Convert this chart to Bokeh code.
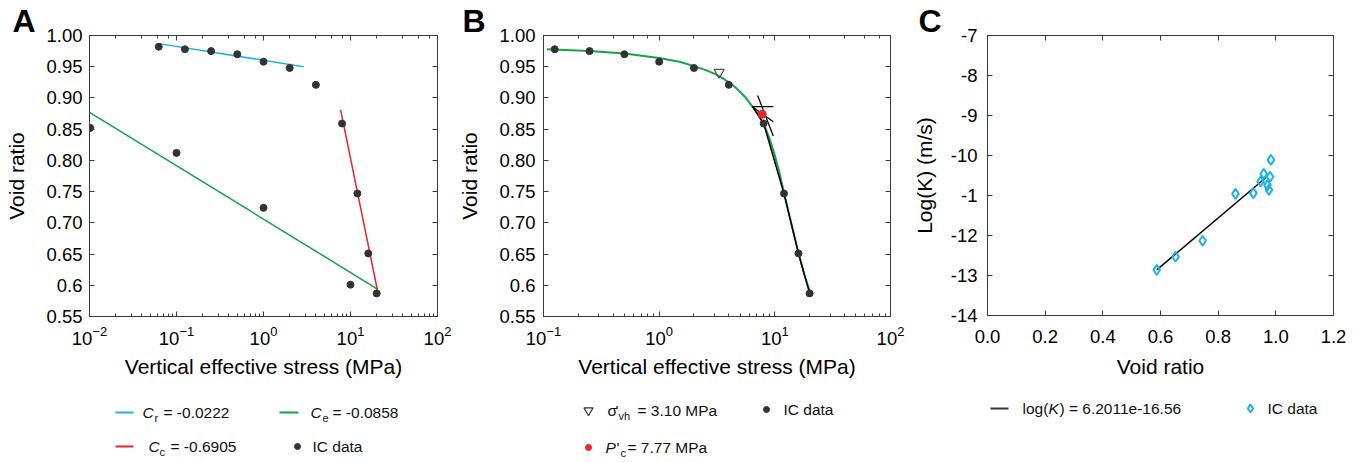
from bokeh.plotting import figure
from bokeh.layouts import row, column
from bokeh.models import (LogAxis, LinearAxis, FixedTicker, LogTicker, Range1d,
                          CustomJSTickFormatter)
from bokeh.embed import file_html
from bokeh.resources import INLINE
from bokeh.core.properties import value

# ---------------- data ----------------
# Panel A
load_stress_A = [0.0625, 0.125, 0.25, 0.5, 1, 2, 4, 8, 12, 16, 20]
load_void_A = [0.982, 0.978, 0.975, 0.970, 0.958, 0.948, 0.921, 0.859, 0.747, 0.651, 0.587]
unload_stress_A = [10, 1, 0.1, 0.0102]
unload_void_A = [0.601, 0.724, 0.812, 0.852]
cr_stress = [0.0625, 2.9]
cr_void = [0.987, 0.950]
ce_stress = [0.01, 20.4]
ce_void = [0.877, 0.594]
cc_stress = [7.7, 20.4]
cc_void = [0.881, 0.592]

# Panel B
stress_B = [0.125, 0.25, 0.5, 1, 2, 4, 8, 12, 16, 20]
void_B = [0.978, 0.975, 0.970, 0.958, 0.948, 0.921, 0.859, 0.747, 0.651, 0.587]
fit_stress_B = [0.107, 0.25, 0.5, 1, 1.5, 2, 2.5, 3, 3.5, 4, 4.5, 5, 5.5, 6, 7, 8, 9, 10, 11,
                12, 14, 16, 18, 20.3]
fit_void_B = [0.978, 0.975, 0.971, 0.964, 0.958, 0.951, 0.945, 0.939, 0.932, 0.925, 0.918,
              0.910, 0.902, 0.893, 0.877, 0.859, 0.835, 0.808, 0.779, 0.748, 0.696, 0.652,
              0.617, 0.587]
svh_stress = [3.3]
svh_void = [0.941]
pc_stress = [7.77]
pc_void = [0.874]
casa_h_stress = [6.4, 9.7]
casa_h_void = [0.886, 0.886]
casa_bis_stress = [6.4, 9.7]
casa_bis_void = [0.886, 0.862]
casa_tan_stress = [7.1, 9.7]
casa_tan_void = [0.904, 0.839]
vcl_stress = [6.4, 8, 12, 16, 20]
vcl_void = [0.886, 0.859, 0.747, 0.651, 0.587]

# Panel C
void_C = [0.587, 0.652, 0.746, 0.860, 0.922, 0.947, 0.958, 0.971, 0.976, 0.980, 0.983]
logk_C = [-12.86, -12.53, -12.13, -10.96, -10.94, -10.65, -10.46, -10.74, -10.86, -10.53, -10.11]
fitC_void = [0.587, 0.966]
fitC_logk = [-12.86, -10.55]

# ticks
void_ticks = [0.55, 0.60, 0.65, 0.70, 0.75, 0.80, 0.85, 0.90, 0.95, 1.00]
void_tick_labels = ["0.55", "0.6", "0.65", "0.70", "0.75", "0.80", "0.85", "0.90", "0.95", "1.00"]
c_x_ticks = [0.0, 0.2, 0.4, 0.6, 0.8, 1.0, 1.2]
c_x_labels = ["0.0", "0.2", "0.4", "0.6", "0.8", "1.0", "1.2"]
c_y_ticks = [-14, -13, -12, -11, -10, -9, -8, -7]
c_y_labels = ["-14", "-13", "-12", "-1", "-10", "-9", "-8", "-7"]

# ---------------- style ----------------
FONT = "Liberation Sans"
FRAME = "#3a3a3a"
BLUE = "#1cb2ea"
GREEN = "#17a34a"
RED = "#e8262b"
DOT = "#333333"
FIG_H = 380
LEG_H = 80
TOP = 35
BOTTOM = 64


def style_axis(ax, minor=True):
    ax.major_tick_in = 5
    ax.major_tick_out = 0
    ax.minor_tick_in = 3 if minor else 0
    ax.minor_tick_out = 0
    ax.axis_line_color = FRAME
    ax.major_tick_line_color = FRAME
    ax.minor_tick_line_color = FRAME if minor else None
    ax.major_label_text_font = FONT
    ax.major_label_text_font_size = "18.5px"
    ax.major_label_text_color = "black"
    ax.axis_label_text_font = FONT
    ax.axis_label_text_font_size = "21px"
    ax.axis_label_text_font_style = "normal"
    ax.axis_label_text_color = "black"


def mirror(p, ax_cls, loc, ticker, minor):
    ax = ax_cls(ticker=ticker, formatter=CustomJSTickFormatter(code="return ''"))
    style_axis(ax, minor)
    ax.major_label_text_font_size = "0px"
    ax.major_label_standoff = 0
    p.add_layout(ax, loc)


def make_fig(width, xr, yr, x_type, bl, br, letter_txt, letter_dx):
    p = figure(width=width, height=FIG_H, x_range=xr, y_range=yr, x_axis_type=x_type,
               output_backend="svg", toolbar_location=None,
               min_border_left=bl, min_border_right=br, min_border_top=TOP,
               min_border_bottom=BOTTOM)
    p.grid.visible = False
    p.outline_line_color = FRAME
    p.outline_line_width = 1
    p.background_fill_color = "white"
    p.border_fill_color = "white"
    p.title.text = letter_txt
    p.title.text_font = FONT
    p.title.text_font_size = "32px"
    p.title.text_font_style = "bold"
    p.title.text_color = "black"
    p.title.align = "left"
    p.title.offset = letter_dx
    p.title.standoff = -7
    return p


def legend_fig(width, bl, br, x0, x1):
    q = figure(width=width, height=LEG_H, x_range=Range1d(x0, x1), y_range=Range1d(LEG_H, 0),
               output_backend="svg", toolbar_location=None,
               min_border_left=bl, min_border_right=br, min_border_top=0, min_border_bottom=0,
               x_axis_location=None, y_axis_location=None)
    q.grid.visible = False
    q.outline_line_color = None
    return q


def txt(q, x, y, s, size="15.5px", style="normal"):
    q.text(x=[x], y=[y], text=[s], text_font=value(FONT), text_font_size=size,
           text_font_style=style, text_baseline="middle", text_align="left", text_color="#111111")


# ---------------- Panel A ----------------
pA = make_fig(455, Range1d(0.01, 100), Range1d(0.55, 1.0), "log", 89, 18, "A", -77)
style_axis(pA.xaxis[0], True)
style_axis(pA.yaxis[0], False)
pA.yaxis[0].ticker = FixedTicker(ticks=void_ticks)
pA.yaxis[0].major_label_overrides = dict(zip(void_ticks, void_tick_labels))
pA.xaxis[0].axis_label = "Vertical effective stress (MPa)"
pA.yaxis[0].axis_label = "Void ratio"
pA.xaxis[0].major_label_standoff = 9
pA.xaxis[0].axis_label_standoff = 7
pA.yaxis[0].major_label_standoff = 7
pA.yaxis[0].axis_label_standoff = 15
mirror(pA, LogAxis, "above", LogTicker(), True)
mirror(pA, LinearAxis, "right", FixedTicker(ticks=void_ticks), False)
pA.line(cr_stress, cr_void, line_color=BLUE, line_width=1.5)
pA.line(ce_stress, ce_void, line_color=GREEN, line_width=1.5)
pA.line(cc_stress, cc_void, line_color=RED, line_width=1.5)
pA.scatter(load_stress_A, load_void_A, size=7, color=DOT)
pA.scatter(unload_stress_A, unload_void_A, size=7, color=DOT)

# legend A (x in page pixels, y in pixels from legend top)
lA = legend_fig(455, 89, 18, 89, 437)
lA.line([115, 133], [32, 32], line_color=BLUE, line_width=2)
txt(lA, 142, 32, "C", style="italic")
txt(lA, 154, 37, "r", size="11px")
txt(lA, 163, 32, "= -0.0222")
lA.line([279, 298], [32, 32], line_color=GREEN, line_width=2)
txt(lA, 310, 32, "C", style="italic")
txt(lA, 322, 37, "e", size="11px")
txt(lA, 332, 32, "= -0.0858")
lA.line([115, 133], [66, 66], line_color=RED, line_width=2)
txt(lA, 148, 66, "C", style="italic")
txt(lA, 159, 71, "c", size="11px")
txt(lA, 170, 66, "= -0.6905")
lA.scatter([297], [66], size=6, color=DOT)
txt(lA, 312, 66, "IC data")

# ---------------- Panel B ----------------
pB = make_fig(450, Range1d(0.1, 100), Range1d(0.55, 1.0), "log", 88, 15, "B", -81)
style_axis(pB.xaxis[0], True)
style_axis(pB.yaxis[0], False)
pB.yaxis[0].ticker = FixedTicker(ticks=void_ticks)
pB.yaxis[0].major_label_overrides = dict(zip(void_ticks, void_tick_labels))
pB.xaxis[0].axis_label = "Vertical effective stress (MPa)"
pB.yaxis[0].axis_label = "Void ratio"
pB.xaxis[0].major_label_standoff = 9
pB.xaxis[0].axis_label_standoff = 7
pB.yaxis[0].major_label_standoff = 8
pB.yaxis[0].axis_label_standoff = 15
mirror(pB, LogAxis, "above", LogTicker(), True)
mirror(pB, LinearAxis, "right", FixedTicker(ticks=void_ticks), False)
pB.line(fit_stress_B, fit_void_B, line_color=GREEN, line_width=2)
pB.line(vcl_stress, vcl_void, line_color="black", line_width=1.5)
pB.line(casa_h_stress, casa_h_void, line_color="black", line_width=1.3)
pB.line(casa_bis_stress, casa_bis_void, line_color="black", line_width=1.3)
pB.line(casa_tan_stress, casa_tan_void, line_color="black", line_width=1.3)
pB.scatter(stress_B, void_B, size=7, color=DOT)
pB.scatter(svh_stress, svh_void, marker="inverted_triangle", size=10,
           fill_color=None, line_color="#555555", line_width=1.2)
pB.scatter(pc_stress, pc_void, size=8, color=RED)

lB = legend_fig(450, 88, 15, 543, 890)
lB.scatter([588], [30], marker="inverted_triangle", size=9, fill_color=None,
           line_color="#333333", line_width=1.2)
txt(lB, 607, 30, "σ")
txt(lB, 615, 30, "'")
txt(lB, 618, 35, "vh", size="11px")
txt(lB, 637, 30, "= 3.10 MPa")
lB.scatter([766], [29], size=6, color=DOT)
txt(lB, 783, 29, "IC data")
lB.scatter([588], [67], size=6, color=RED)
txt(lB, 605, 67, "P", style="italic")
txt(lB, 616, 67, "'")
txt(lB, 620, 72, "c", size="11px")
txt(lB, 627, 67, "= 7.77 MPa")

# ---------------- Panel C ----------------
pC = make_fig(455, Range1d(0.0, 1.2), Range1d(-14, -7), "linear", 82, 27, "C", -69)
style_axis(pC.xaxis[0], False)
style_axis(pC.yaxis[0], False)
pC.xaxis[0].ticker = FixedTicker(ticks=c_x_ticks)
pC.xaxis[0].major_label_overrides = dict(zip(c_x_ticks, c_x_labels))
pC.yaxis[0].ticker = FixedTicker(ticks=c_y_ticks)
pC.yaxis[0].major_label_overrides = dict(zip(c_y_ticks, c_y_labels))
pC.xaxis[0].axis_label = "Void ratio"
pC.yaxis[0].axis_label = "Log(K) (m/s)"
pC.xaxis[0].major_label_standoff = 14
pC.xaxis[0].axis_label_standoff = 9
pC.yaxis[0].major_label_standoff = 10
pC.yaxis[0].axis_label_standoff = 12
mirror(pC, LinearAxis, "above", FixedTicker(ticks=c_x_ticks), False)
mirror(pC, LinearAxis, "right", FixedTicker(ticks=c_y_ticks), False)
pC.line(fitC_void, fitC_logk, line_color="black", line_width=1.5)
pC.scatter(void_C, logk_C, marker="diamond", size=10, fill_color=None,
           line_color=BLUE, line_width=2)

lC = legend_fig(455, 82, 27, 987, 1333)
lC.line([990, 1008], [28, 28], line_color="#333333", line_width=2)
txt(lC, 1022, 28, "log(")
txt(lC, 1048, 28, "K", style="italic")
txt(lC, 1059, 28, ") = 6.2011e-16.56")
lC.scatter([1250], [28], marker="diamond", size=8, fill_color=None, line_color=BLUE, line_width=2)
txt(lC, 1267, 28, "IC data")

layout = row(column(pA, lA), column(pB, lB), column(pC, lC))
open("out.html", "w").write(file_html(layout, INLINE))
